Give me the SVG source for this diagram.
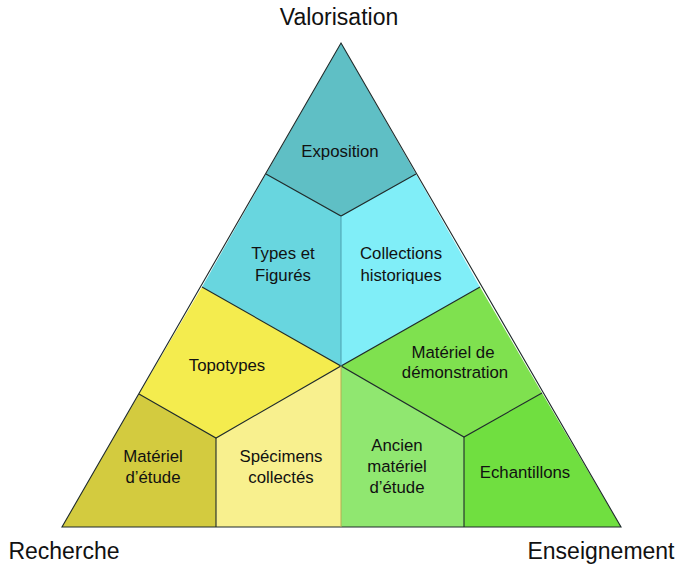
<svg xmlns="http://www.w3.org/2000/svg" width="679" height="568" viewBox="0 0 679 568">
<style>
text{font-family:"Liberation Sans",Arial,sans-serif;fill:#111;text-anchor:middle}
.lbl{font-size:16.8px}
.ax{font-size:23px}
.ln{stroke:#1e2a2a;stroke-width:1.1;fill:none;stroke-linejoin:miter}
</style>
<rect width="679" height="568" fill="#ffffff"/>
<g id="exposition">
<polygon points="341,43 416,174 341,216 266,174" fill="#5fbfc5"/>
<text class="lbl" x="340" y="157">Exposition</text>
</g>
<g id="types-et-figures">
<polygon points="266,174 341,216 341,366 202,287" fill="#68d6df"/>
<text class="lbl" x="283" y="259">Types et</text>
<text class="lbl" x="283" y="281">Figurés</text>
</g>
<g id="collections-historiques">
<polygon points="416,174 480,287 341,366 341,216" fill="#80eef8"/>
<text class="lbl" x="401" y="259">Collections</text>
<text class="lbl" x="401" y="281">historiques</text>
</g>
<g id="topotypes">
<polygon points="139,394 202,287 341,366 216,438" fill="#f4ec4e"/>
<text class="lbl" x="227" y="371">Topotypes</text>
</g>
<g id="materiel-etude">
<polygon points="62,527 139,394 216,438 216,527" fill="#d3cb3f"/>
<text class="lbl" x="153" y="462">Matériel</text>
<text class="lbl" x="153" y="483">d’étude</text>
</g>
<g id="specimens-collectes">
<polygon points="216,438 341,366 341,527 216,527" fill="#f8f08e"/>
<text class="lbl" x="281" y="462">Spécimens</text>
<text class="lbl" x="281" y="483">collectés</text>
</g>
<g id="materiel-demonstration">
<polygon points="480,287 542,393 464,437 341,366" fill="#7fe14f"/>
<text class="lbl" x="453" y="358">Matériel de</text>
<text class="lbl" x="455" y="378">démonstration</text>
</g>
<g id="ancien-materiel-etude">
<polygon points="341,366 464,437 464,527 341,527" fill="#90e770"/>
<text class="lbl" x="397" y="451">Ancien</text>
<text class="lbl" x="397" y="472">matériel</text>
<text class="lbl" x="397" y="493">d’étude</text>
</g>
<g id="echantillons">
<polygon points="542,393 621,527 464,527 464,437" fill="#70df40"/>
<text class="lbl" x="525" y="478">Echantillons</text>
</g>
<g id="connectors">
<polygon class="ln" points="341,43 621,527 62,527"/>
<polyline class="ln" points="266,174 341,216 416,174"/>
<polyline class="ln" points="202,287 341,366 480,287"/>
<polyline class="ln" points="139,394 216,438 341,366 464,437 542,393"/>
<line class="ln" x1="216" y1="438" x2="216" y2="527"/>
<line class="ln" x1="464" y1="437" x2="464" y2="527"/>
<line x1="341" y1="216" x2="341" y2="366" stroke="#4d9fae" stroke-width="1"/>
<line x1="341" y1="366" x2="341" y2="527" stroke="#b6ae52" stroke-width="1"/>
</g>
<g id="axis-labels">
<text class="ax" x="339" y="25">Valorisation</text>
<text class="ax" x="64" y="559">Recherche</text>
<text class="ax" x="601" y="559">Enseignement</text>
</g>
</svg>
